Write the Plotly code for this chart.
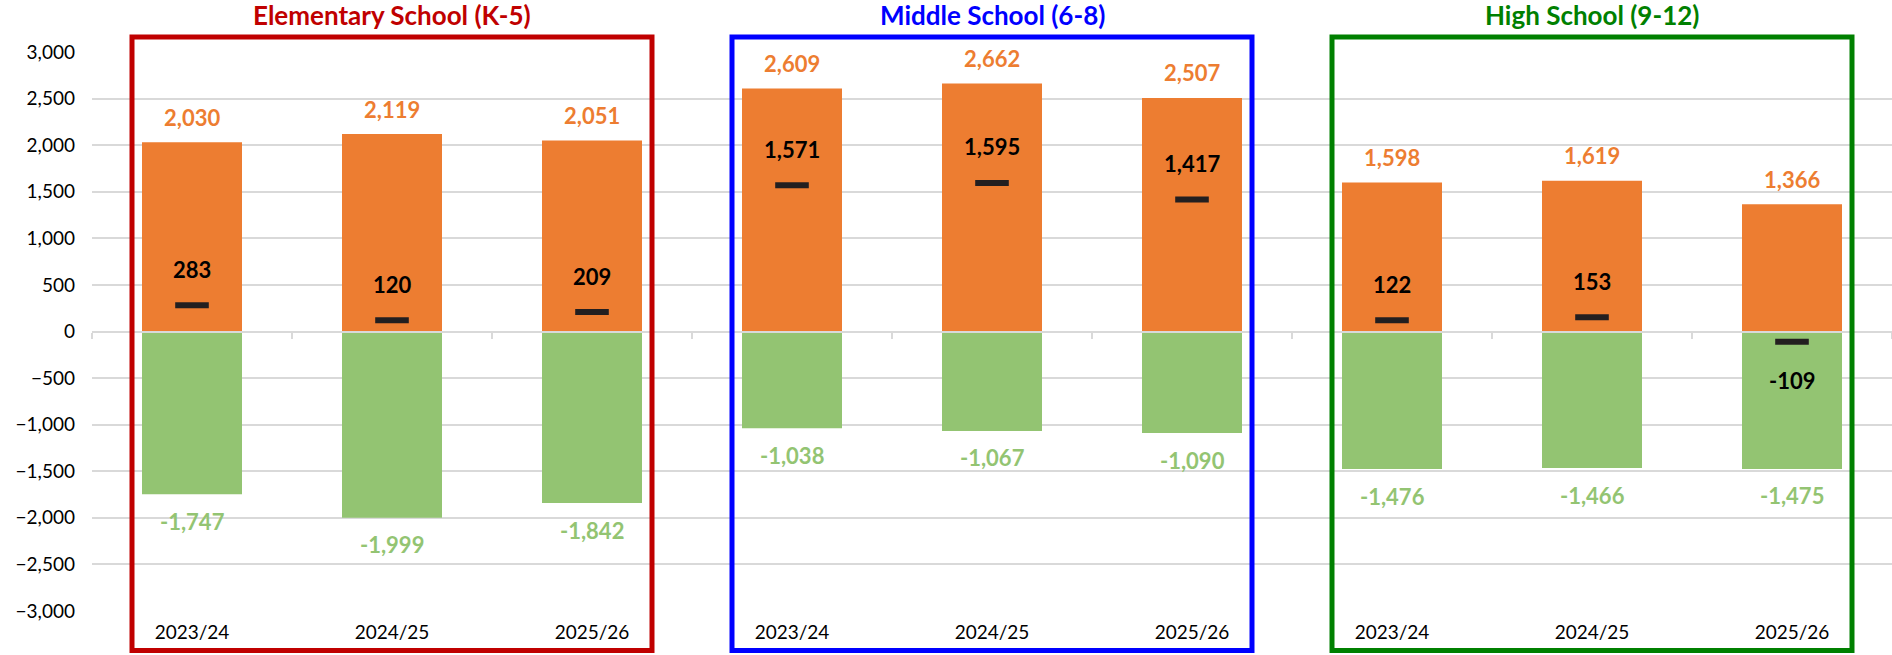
import plotly.graph_objects as go

# ---- data ----
groups = ["Elementary School (K-5)", "Middle School (6-8)", "High School (9-12)"]
group_colors = ["#C00000", "#0000FF", "#008000"]
years = ["2023/24", "2024/25", "2025/26"]
inflow = [2030, 2119, 2051, 2609, 2662, 2507, 1598, 1619, 1366]
outflow = [-1747, -1999, -1842, -1038, -1067, -1090, -1476, -1466, -1475]
net = [283, 120, 209, 1571, 1595, 1417, 122, 153, -109]
y_ticks = list(range(-3000, 3001, 500))

ORANGE = "#ED7D31"
GREEN = "#93C472"
DARK = "#231F20"
FONT = "Lato"

n = len(inflow)
xs = list(range(n))
tick_text = years * len(groups)

fig = go.Figure()
fig.add_trace(go.Bar(x=xs, y=inflow, width=0.5, marker=dict(color=ORANGE, line=dict(width=0)),
                     name="In", hoverinfo="y"))
fig.add_trace(go.Bar(x=xs, y=outflow, width=0.5, marker=dict(color=GREEN, line=dict(width=0)),
                     name="Out", hoverinfo="y"))
fig.add_trace(go.Scatter(x=xs, y=net, mode="markers", xaxis="x2",
                         marker=dict(symbol="line-ew", size=24, line=dict(width=6, color=DARK), color=DARK),
                         name="Net", hoverinfo="y"))

annotations = []
for i in range(n):
    annotations.append(dict(x=xs[i], y=inflow[i], text=f"{inflow[i]:,}", showarrow=False,
                            yshift=25, yanchor="middle",
                            font=dict(family=FONT, size=22, color=ORANGE, weight="bold")))
    annotations.append(dict(x=xs[i], y=outflow[i], text=f"{outflow[i]:,}", showarrow=False,
                            yshift=-27, yanchor="middle",
                            font=dict(family=FONT, size=22, color=GREEN, weight="bold")))
    annotations.append(dict(x=xs[i], y=net[i], text=f"{net[i]:,}", showarrow=False,
                            yshift=36 if net[i] >= 0 else -39, yanchor="middle",
                            font=dict(family=FONT, size=22, color="#000000", weight="bold")))

shapes = []
for g, (name, col) in enumerate(zip(groups, group_colors)):
    first = g * len(years)
    last = first + len(years) - 1
    annotations.append(dict(x=(first + last) / 2, xref="x", y=1.066, yref="paper", text=name,
                            showarrow=False, yanchor="middle",
                            font=dict(family=FONT, size=26, color=col, weight="bold")))
    shapes.append(dict(type="rect", xref="x", yref="paper",
                       x0=first - 0.3, x1=last + 0.3, y0=-0.0707, y1=1.0268,
                       line=dict(color=col, width=5), fillcolor="rgba(0,0,0,0)", layer="above"))

fig.update_layout(
    width=1892, height=655,
    margin=dict(l=92, r=0, t=52, b=44),
    paper_bgcolor="white", plot_bgcolor="white",
    barmode="overlay", showlegend=False,
    font=dict(family=FONT, color="#000000"),
    annotations=annotations, shapes=shapes,
    xaxis=dict(range=[-0.5, n - 0.5], tickvals=xs, ticktext=tick_text, showgrid=False,
               zeroline=False, showline=False, ticks="", ticklabelstandoff=8,
               tickfont=dict(family=FONT, size=19, color="#000000"), fixedrange=True),
    xaxis2=dict(range=[-0.5, n - 0.5], overlaying="x", anchor="free", position=0.5,
                tickvals=[i - 0.5 for i in range(n + 1)], showticklabels=False,
                ticks="outside", ticklen=6, tickwidth=2, tickcolor="#D9D9D9",
                showline=True, linecolor="#D9D9D9", linewidth=2, showgrid=False,
                zeroline=False, layer="above traces"),
    yaxis=dict(range=[-3000, 3000], tickvals=y_ticks, tickformat=",", showgrid=True,
               gridcolor="#D9D9D9", gridwidth=2, zeroline=False, showline=False, ticks="",
               ticklabelstandoff=16, tickfont=dict(family=FONT, size=19, color="#000000")),
)

fig.write_html("out.html", config={"displayModeBar": False},
               post_script="document.body.style.margin='0';")
